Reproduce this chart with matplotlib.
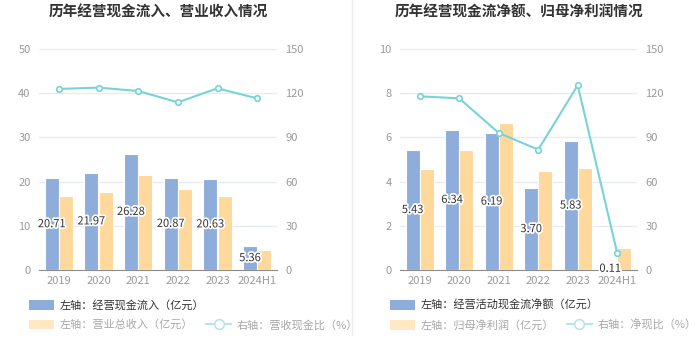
import matplotlib
matplotlib.use("Agg")
import matplotlib.pyplot as plt
import matplotlib.patheffects as pe
from matplotlib.patches import Patch
from matplotlib.lines import Line2D
import numpy as np

plt.rcParams['font.family'] = ['Noto Sans CJK SC', 'DejaVu Sans']

years = ['2019', '2020', '2021', '2022', '2023', '2024H1']

# left panel
cash_in = [20.71, 21.97, 26.28, 20.87, 20.63, 5.36]
revenue = [16.8, 17.6, 21.6, 18.3, 16.8, 4.5]
cash_ratio = [122.9, 123.8, 121.5, 113.8, 123.3, 116.5]

# right panel
net_cash = [5.43, 6.34, 6.19, 3.70, 5.83, 0.11]
net_profit = [4.58, 5.43, 6.64, 4.49, 4.63, 0.98]
net_ratio = [117.9, 116.5, 93.0, 81.7, 125.4, 11.3]

BLUE = '#8eaddb'
YELLOW = '#ffd89b'
TEAL = '#78d3d8'
GRID = '#e6ebf3'
TICK = '#9a9a9a'

W, H = 700, 360
fig = plt.figure(figsize=(7, 3.6), dpi=100)


def px_axes(x0, y0, x1, y1):
    return fig.add_axes([x0 / W, 1 - y1 / H, (x1 - x0) / W, (y1 - y0) / H])


def panel(x0, x1, title, bars1, bars2, line, lmax, lstep, leg1, leg2, leg3):
    ax = px_axes(x0, 49, x1, 270)
    ax2 = ax.twinx()
    x = np.arange(len(years))
    bw = 0.35
    ax.bar(x - 0.18, bars1, bw, color=BLUE, edgecolor='white', lw=0.8, zorder=3)
    ax.bar(x + 0.18, bars2, bw, color=YELLOW, edgecolor='white', lw=0.8, zorder=3)
    for xi, v in zip(x, bars1):
        ax.text(xi - 0.18, v / 2, f'{v:.2f}', ha='center', va='center',
                fontsize=8, color='#333333', zorder=5,
                path_effects=[pe.withStroke(linewidth=2.5, foreground='white')])
    ax2.plot(x, line, color=TEAL, lw=1.5, marker='o', ms=4,
             mfc='white', mec=TEAL, mew=1.2, zorder=4)

    ax.set_xlim(-0.5, len(years) - 0.5)
    ax.set_ylim(0, lmax)
    ax.set_yticks(np.arange(0, lmax + 0.001, lstep))
    ax2.set_ylim(0, 150)
    ax2.set_yticks(np.arange(0, 151, 30))
    ax.set_xticks(x)
    ax.set_xticklabels(years)
    ax.yaxis.grid(True, color=GRID, lw=1, zorder=0)
    ax.set_axisbelow(True)
    for a in (ax, ax2):
        for s in a.spines.values():
            s.set_visible(False)
        a.tick_params(length=0, colors=TICK, labelsize=8, pad=6)
    ax.spines['bottom'].set_visible(True)
    ax.spines['bottom'].set_color('#8c8c8c')
    ax.tick_params(axis='x', pad=4)
    ax.set_yticklabels([f'{int(t)}' for t in ax.get_yticks()])

    fig.text((x0 + x1) / 2 / W, 1 - 12 / H, title, ha='center', va='center',
             fontsize=10.5, fontweight='bold', color='#333333')

    h1 = [Patch(facecolor=BLUE, edgecolor='none')]
    lg1 = fig.legend(h1, [leg1], loc='upper left',
                     bbox_to_anchor=((x0 - 14) / W, 1 - 295 / H), frameon=False,
                     fontsize=8, handlelength=2.2, handleheight=1.0,
                     handletextpad=0.5, borderaxespad=0)
    for t in lg1.get_texts():
        t.set_color('#333333')
    h2 = [Patch(facecolor='#ffe8c2', edgecolor='none'),
          Line2D([], [], color='#b6e6e9', lw=1.5, marker='o', ms=7,
                 mfc='white', mec='#b6e6e9', mew=1.2)]
    lg2 = fig.legend(h2, [leg2, leg3], loc='upper left', ncol=2,
                     bbox_to_anchor=((x0 - 14) / W, 1 - 315 / H), frameon=False,
                     fontsize=8, handlelength=2.2, handleheight=1.0,
                     handletextpad=0.5, columnspacing=1.2, borderaxespad=0)
    for t in lg2.get_texts():
        t.set_color('#a8a8a8')
    return ax


panel(39, 277, '历年经营现金流入、营业收入情况', cash_in, revenue, cash_ratio,
      50, 10, '左轴：经营现金流入（亿元）', '左轴：营业总收入（亿元）',
      '右轴：营收现金比（%）')
panel(400, 637, '历年经营现金流净额、归母净利润情况', net_cash, net_profit, net_ratio,
      10, 2, '左轴：经营活动现金流净额（亿元）', '左轴：归母净利润（亿元）',
      '右轴：净现比（%）')

fig.add_artist(Line2D([352 / W, 352 / W], [1 - 335 / H, 1.0],
                      color='#eeeeee', lw=1))

fig.savefig('out.png', dpi=100, facecolor='white')
